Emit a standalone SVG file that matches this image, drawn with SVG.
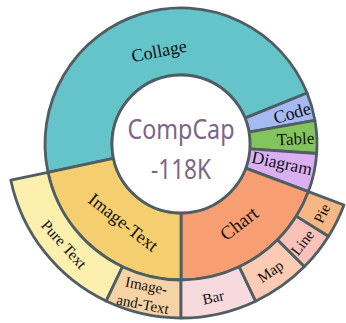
<svg xmlns="http://www.w3.org/2000/svg" width="346" height="323" viewBox="0 0 346 323">
<style>
.seg{stroke:#4f5e63;stroke-width:2.8;stroke-linejoin:round}
.lbl{font-family:"Liberation Serif","Times New Roman",serif;fill:#111;text-anchor:middle;dominant-baseline:central}
.ctr{font-family:"Noto Sans","DejaVu Sans",sans-serif;fill:#7e6585;text-anchor:middle;font-size:28px}
</style>
<rect width="346" height="323" fill="#ffffff"/>
<g id="collage">
<path class="seg" fill="#65c3ca" d="M113.51,158.35 L47.97,172.28 A136,136 0 0 1 307.10,93.05 L244.98,118.15 A69,69 0 0 0 113.51,158.35 Z"/>
<text class="lbl" font-size="18" transform="translate(159,51) rotate(-11)">Collage</text>
</g>
<g id="code">
<path class="seg" fill="#a5b9f2" d="M244.98,118.15 L307.10,93.05 A136,136 0 0 1 314.93,120.38 L248.95,132.02 A69,69 0 0 0 244.98,118.15 Z"/>
<text class="lbl" font-size="18" transform="translate(292,113) rotate(-16)">Code</text>
</g>
<g id="table">
<path class="seg" fill="#84c45e" d="M248.95,132.02 L314.93,120.38 A136,136 0 0 1 316.67,153.49 L249.83,148.81 A69,69 0 0 0 248.95,132.02 Z"/>
<text class="lbl" font-size="17" transform="translate(295.5,139) rotate(-3)">Table</text>
</g>
<g id="diagram">
<path class="seg" fill="#dbb0f3" d="M249.83,148.81 L316.67,153.49 A136,136 0 0 1 308.39,191.63 L245.63,168.16 A69,69 0 0 0 249.83,148.81 Z"/>
<text class="lbl" font-size="17.5" transform="translate(282,163) rotate(12)">Diagram</text>
</g>
<g id="chart">
<path class="seg" fill="#f79e72" d="M245.63,168.16 L308.39,191.63 A136,136 0 0 1 181,280 L181,213 A69,69 0 0 0 245.63,168.16 Z"/>
<text class="lbl" font-size="19" transform="translate(239,223.5) rotate(-38)">Chart</text>
</g>
<g id="image-text">
<path class="seg" fill="#f5cf6f" d="M181,213 L181,280 A136,136 0 0 1 47.97,172.28 L113.51,158.35 A69,69 0 0 0 181,213 Z"/>
<text class="lbl" font-size="18" transform="translate(123.3,222.5) rotate(38)">Image-Text</text>
</g>
<g id="pure-text">
<path class="seg" fill="#fdf0ae" d="M122.45,266.75 L106.09,301.05 A174,174 0 0 1 10.80,180.18 L47.97,172.28 A136,136 0 0 0 122.45,266.75 Z"/>
<text class="lbl" font-size="15.5" transform="translate(64.2,244.2) rotate(48)">Pure Text</text>
</g>
<g id="image-and-text">
<path class="seg" fill="#f5d3a5" d="M181,280 L181,318 A174,174 0 0 1 106.09,301.05 L122.45,266.75 A136,136 0 0 0 181,280 Z"/>
<text class="lbl" font-size="15" transform="translate(144.5,295) rotate(11)"><tspan x="0" dy="-9.5">Image-</tspan><tspan x="0" dy="19">and-Text</tspan></text>
</g>
<g id="bar">
<path class="seg" fill="#f7dade" d="M239.34,266.85 L255.64,301.18 A174,174 0 0 1 181,318 L181,280 A136,136 0 0 0 239.34,266.85 Z"/>
<text class="lbl" font-size="15" transform="translate(213.3,297.5) rotate(-12.7)">Bar</text>
</g>
<g id="map">
<path class="seg" fill="#fccbb3" d="M277.50,239.83 L304.47,266.61 A174,174 0 0 1 255.64,301.18 L239.34,266.85 A136,136 0 0 0 277.50,239.83 Z"/>
<text class="lbl" font-size="15" transform="translate(270.5,271.5) rotate(-35)">Map</text>
</g>
<g id="line">
<path class="seg" fill="#f8c2b8" d="M296.33,216.07 L328.56,236.21 A174,174 0 0 1 304.47,266.61 L277.50,239.83 A136,136 0 0 0 296.33,216.07 Z"/>
<text class="lbl" font-size="15" transform="translate(302.5,242.5) rotate(-52)">Line</text>
</g>
<g id="pie">
<path class="seg" fill="#f7b784" d="M308.39,191.63 L343.98,204.94 A174,174 0 0 1 328.56,236.21 L296.33,216.07 A136,136 0 0 0 308.39,191.63 Z"/>
<text class="lbl" font-size="15" transform="translate(322,213.5) rotate(-64)">Pie</text>
</g>
<g id="center">
<circle class="seg" cx="181" cy="144" r="69" fill="#ffffff"/>
<text class="ctr" x="181" y="138.5" textLength="107" lengthAdjust="spacingAndGlyphs">CompCap</text>
<text class="ctr" x="181" y="178.5" textLength="60" lengthAdjust="spacingAndGlyphs">-118K</text>
</g>
<g id="connectors"></g>
</svg>
